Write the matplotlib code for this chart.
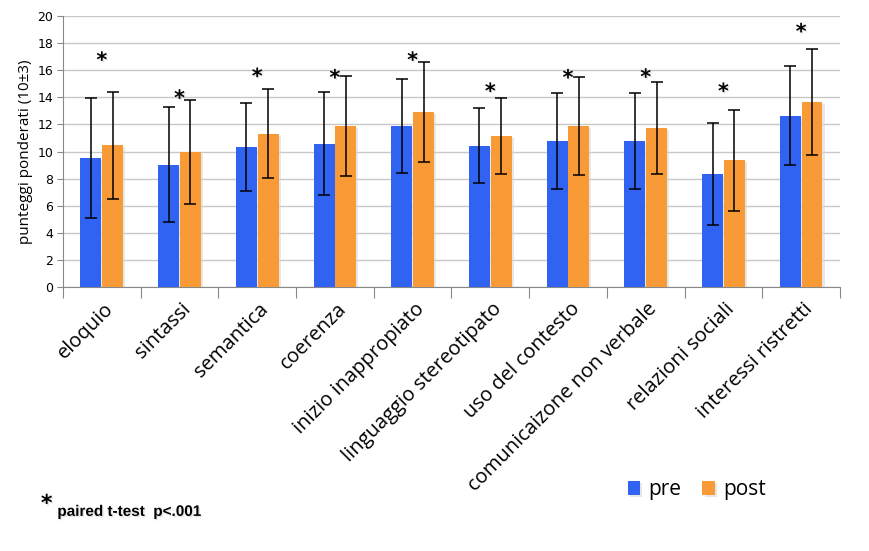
import numpy as np
import matplotlib.pyplot as plt
import matplotlib.patheffects as pe

# data
categories = ['eloquio', 'sintassi', 'semantica', 'coerenza', 'inizio inappropiato',
              'linguaggio stereotipato', 'uso del contesto', 'comunicaizone non verbale',
              'relazioni sociali', 'interessi ristretti']
pre = [9.53, 9.04, 10.32, 10.58, 11.9, 10.44, 10.8, 10.76, 8.35, 12.65]
post = [10.46, 9.97, 11.32, 11.9, 12.94, 11.13, 11.9, 11.76, 9.36, 13.65]
pre_sd = [4.42, 4.21, 3.23, 3.8, 3.48, 2.79, 3.55, 3.53, 3.75, 3.63]
post_sd = [3.95, 3.86, 3.27, 3.68, 3.7, 2.8, 3.6, 3.4, 3.72, 3.9]
star_y = [16.7, 13.9, 15.5, 15.4, 16.7, 14.4, 15.4, 15.45, 14.4, 18.8]

blue = '#3063f2'
orange = '#f89a35'

fig = plt.figure(figsize=(8.69, 5.51), dpi=100)
ax = fig.add_axes([0.0725, 0.479, 0.8941, 0.492])

x = np.arange(len(categories))
w = 0.27
shadow = [pe.SimplePatchShadow(offset=(1.5, -1.5), shadow_rgbFace='#d8d8d8', alpha=0.6), pe.Normal()]

b1 = ax.bar(x - 0.14, pre, w, color=blue, zorder=3, path_effects=shadow)
b2 = ax.bar(x + 0.14, post, w, color=orange, zorder=3, path_effects=shadow)
ax.errorbar(x - 0.14, pre, yerr=pre_sd, fmt='none', ecolor='black', elinewidth=1.1,
            capsize=4, capthick=1.1, zorder=4)
ax.errorbar(x + 0.14, post, yerr=post_sd, fmt='none', ecolor='black', elinewidth=1.1,
            capsize=4, capthick=1.1, zorder=4)

for xi, yi in zip(x, star_y):
    ax.text(xi, yi, '*', ha='center', va='center', fontsize=15, fontweight='bold',
            zorder=5, path_effects=[pe.withSimplePatchShadow(offset=(1, -1), shadow_rgbFace='#aaaaaa')])

ax.set_xlim(-0.5, len(categories) - 0.5)
ax.set_ylim(0, 20)
ax.set_yticks(range(0, 21, 2))
ax.tick_params(axis='y', labelsize=9, length=4, color='#888888', pad=3)
ax.yaxis.grid(True, color='#c8c8c8', linewidth=1, zorder=0)
ax.set_axisbelow(True)

# category boundaries as ticks, labels at centers
ax.set_xticks(np.arange(-0.5, len(categories)), minor=False)
ax.set_xticklabels([])
ax.tick_params(axis='x', length=8, color='#888888')
for xi, lab in zip(x, categories):
    ax.text(xi + 0.02, -0.9, lab, rotation=45, ha='right', va='top', rotation_mode='anchor',
            fontsize=14.5, family='Open Sans')

for s in ['top', 'right']:
    ax.spines[s].set_visible(False)
ax.spines['left'].set_color('#888888')
ax.spines['bottom'].set_color('#888888')

ax.set_ylabel('punteggi ponderati (10±3)', fontsize=11, family='Open Sans', labelpad=3)

fig.legend([b1, b2], ['pre', 'post'], loc='center', bbox_to_anchor=(0.802, 0.111), ncol=2,
           frameon=False, handlelength=0.6, handleheight=0.6, handletextpad=0.4,
           columnspacing=1.0, prop={'family': 'Open Sans', 'size': 15})

fig.text(0.047, 0.085, '*', fontsize=16, fontweight='bold', ha='left', va='center',
         path_effects=[pe.withSimplePatchShadow(offset=(1, -1), shadow_rgbFace='#999999')])
fig.text(0.066, 0.071, 'paired t-test  p<.001', fontsize=11, fontweight='bold',
         family=['Liberation Sans Narrow', 'Liberation Sans'], ha='left', va='center',
         path_effects=[pe.withSimplePatchShadow(offset=(1, -1), shadow_rgbFace='#aaaaaa')])

fig.savefig('out.png', dpi=100)
